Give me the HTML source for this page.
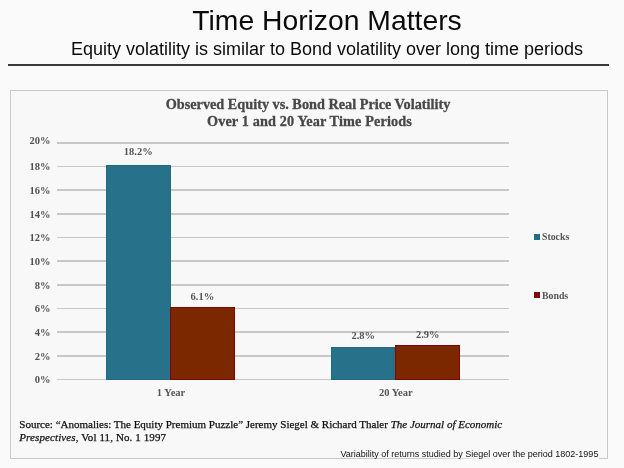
<!DOCTYPE html>
<html><head><meta charset="utf-8"><title>Time Horizon Matters</title>
<style>
html,body{margin:0;padding:0}
body{width:624px;height:468px;overflow:hidden;background:#fafafa;position:relative;font-family:"Liberation Sans",sans-serif;color:#0a0a0a}
.abs{position:absolute;white-space:nowrap}
#title{left:0;width:654px;text-align:center;top:4.3px;font-size:28.3px;line-height:32px}
#sub{left:0;width:654px;text-align:center;top:38.5px;font-size:18px;line-height:20px}
#hr{left:8px;top:64px;width:601px;height:2px;background:#3a3a3a}
#chart{left:10px;top:90px;width:598px;height:369px;border:1px solid #c9c9c9;background:#f8f8f8;box-sizing:border-box}
.ct{-webkit-text-stroke:0.3px #484848;font-family:"Liberation Serif",serif;font-weight:bold;font-size:14.25px;line-height:17px;color:#484848;text-align:center}
.grid{left:57.3px;width:452px;height:1.6px;background:#c7c7c7}
.yl{font-family:"Liberation Serif",serif;font-weight:bold;font-size:10.5px;line-height:10px;color:#505050;left:21px;width:29.5px;text-align:right}
.dl{font-family:"Liberation Serif",serif;font-weight:bold;font-size:10.5px;line-height:10px;color:#555;text-align:center;width:60px}
.bar{box-sizing:border-box}
.s{background:#27718a;border:1px solid #206a82}
.b{background:#7b2800;border:1.5px solid #7e0606}
.lg{font-family:"Liberation Serif",serif;font-weight:bold;font-size:9.8px;line-height:10px;color:#555}

.src{-webkit-text-stroke:0.25px #111;font-family:"Liberation Serif",serif;font-size:11px;line-height:13px;color:#111;left:19.3px}
#cap{font-size:9px;line-height:10px;color:#111;left:340.4px;top:448.6px}
</style></head><body>
<div class="abs" id="title">Time Horizon Matters</div>
<div class="abs" id="sub">Equity volatility is similar to Bond volatility over long time periods</div>
<div class="abs" id="hr"></div>
<div class="abs" id="chart"></div>
<div class="abs ct" style="left:108px;width:400px;top:96px">Observed Equity vs. Bond Real Price Volatility</div>
<div class="abs ct" style="left:109.5px;width:400px;top:113px;letter-spacing:0.13px">Over 1 and 20 Year Time Periods</div>

<div class="abs grid" style="top:142.0px"></div>
<div class="abs grid" style="top:165.7px"></div>
<div class="abs grid" style="top:189.4px"></div>
<div class="abs grid" style="top:213.0px"></div>
<div class="abs grid" style="top:236.7px"></div>
<div class="abs grid" style="top:260.4px"></div>
<div class="abs grid" style="top:284.1px"></div>
<div class="abs grid" style="top:307.8px"></div>
<div class="abs grid" style="top:331.4px"></div>
<div class="abs grid" style="top:355.1px"></div>
<div class="abs grid" style="top:378.8px"></div>

<div class="abs yl" style="top:136.2px">20%</div>
<div class="abs yl" style="top:162.3px">18%</div>
<div class="abs yl" style="top:186.0px">16%</div>
<div class="abs yl" style="top:209.6px">14%</div>
<div class="abs yl" style="top:233.3px">12%</div>
<div class="abs yl" style="top:257.0px">10%</div>
<div class="abs yl" style="top:280.7px">8%</div>
<div class="abs yl" style="top:304.4px">6%</div>
<div class="abs yl" style="top:328.0px">4%</div>
<div class="abs yl" style="top:351.7px">2%</div>
<div class="abs yl" style="top:375.4px">0%</div>

<div class="abs bar s" style="left:106px;top:164.6px;width:65px;height:215px"></div>
<div class="abs bar b" style="left:170px;top:306.7px;width:65px;height:72.9px"></div>
<div class="abs bar s" style="left:331px;top:346.8px;width:64.5px;height:32.8px"></div>
<div class="abs bar b" style="left:395.2px;top:345.4px;width:65.3px;height:34.2px"></div>

<div class="abs dl" style="left:108.3px;top:147px">18.2%</div>
<div class="abs dl" style="left:172.4px;top:291.5px">6.1%</div>
<div class="abs dl" style="left:333.3px;top:331.3px">2.8%</div>
<div class="abs dl" style="left:397.8px;top:329.7px">2.9%</div>

<div class="abs dl" style="left:141px;top:387.5px">1 Year</div>
<div class="abs dl" style="left:365.8px;top:387.5px">20 Year</div>

<div class="abs" style="left:534px;top:234px;width:6px;height:6px;background:#1f6f8a"></div>
<div class="abs lg" style="left:542px;top:232px">Stocks</div>
<div class="abs" style="left:534px;top:292.3px;width:6px;height:6px;background:#7e0a0a"></div>
<div class="abs lg" style="left:542px;top:290.5px">Bonds</div>

<div class="abs src" style="top:417.6px">Source: “Anomalies: The Equity Premium Puzzle” Jeremy Siegel &amp; Richard Thaler <i>The Journal of Economic</i></div>
<div class="abs src" style="top:430.8px;letter-spacing:0.1px"><i>Prespectives,</i> Vol 11, No. 1 1997</div>
<div class="abs" style="left:430px;top:457px;width:169px;height:3px;background:linear-gradient(90deg,rgba(249,249,249,0),#f9f9f9 45%)"></div>
<div class="abs" id="cap">Variability of returns studied by Siegel over the period 1802-1995</div>
</body></html>
